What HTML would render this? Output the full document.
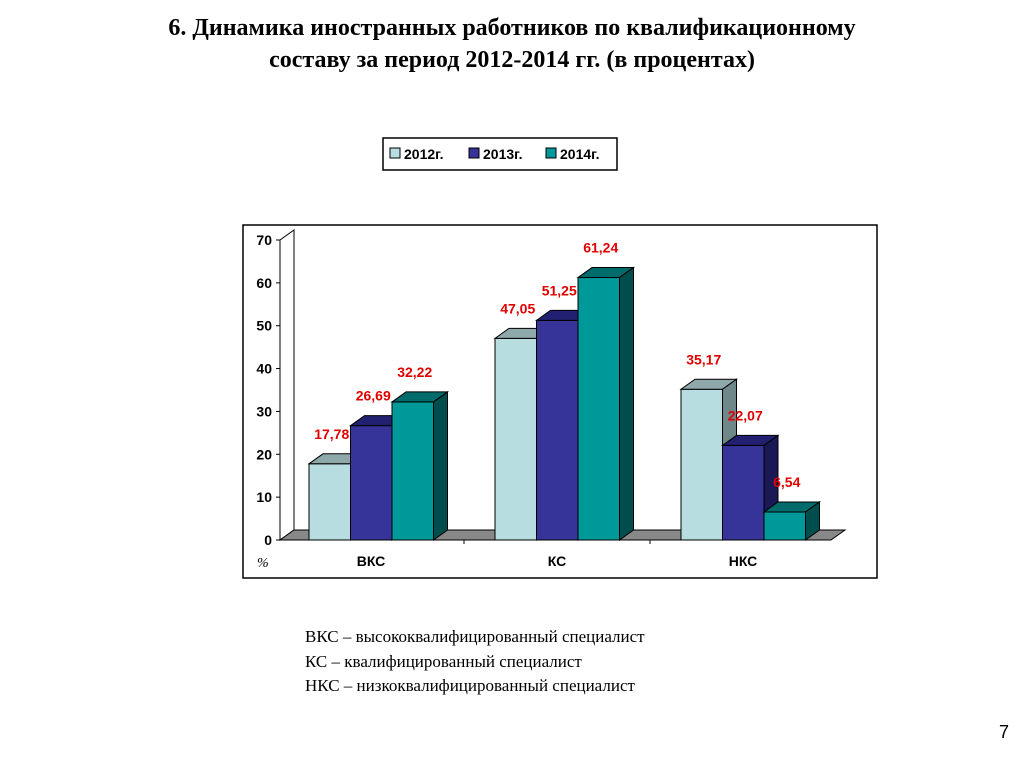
<!DOCTYPE html>
<html><head><meta charset="utf-8"><style>
body{margin:0;width:1024px;height:768px;background:#fff;overflow:hidden;position:relative;font-family:"Liberation Sans",sans-serif}
.title{position:absolute;left:0;top:12px;width:1024px;text-align:center;font:bold 24px/32px "Liberation Serif",serif;color:#000}
.notes{position:absolute;left:305px;top:625px;font:17px/24.5px "Liberation Serif",serif}
.pg{position:absolute;left:999px;top:722px;font:18px "Liberation Sans",sans-serif}
</style></head><body>
<div class="title">6. Динамика иностранных работников по квалификационному<br>составу за период 2012-2014 гг. (в процентах)</div>
<svg width="1024" height="768" style="position:absolute;left:0;top:0">
<rect x="383" y="138" width="234" height="32" fill="#fff" stroke="#000" stroke-width="1.5"/>
<rect x="243" y="225" width="634" height="353" fill="#fff" stroke="#000" stroke-width="1.5"/>
<g id="g"></g>
</svg>
<div class="notes">ВКС – высококвалифицированный специалист<br>КС – квалифицированный специалист<br>НКС – низкоквалифицированный специалист</div>
<div class="pg">7</div>
<script>
const categories=["ВКС","КС","НКС"];
const series=["2012г.","2013г.","2014г."];
const v2012=[17.78,47.05,35.17];
const v2013=[26.69,51.25,22.07];
const v2014=[32.22,61.24,6.54];
const labels2012=["17,78","47,05","35,17"];
const labels2013=["26,69","51,25","22,07"];
const labels2014=["32,22","61,24","6,54"];
const ticks=[0,10,20,30,40,50,60,70];
const vals=[v2012,v2013,v2014],labs=[labels2012,labels2013,labels2014];
const cols=[["#b8dde0","#8fa9ab","#6f8789"],["#363399","#222070","#1a1855"],["#009999","#006b6b","#004d4d"]];
const NS="http://www.w3.org/2000/svg",g=document.getElementById('g');
const y0=540,ppu=300/70,dx=14,dy=-10,ax=280;
const y=v=>y0-v*ppu;
function mk(t,a,name){const e=document.createElementNS(NS,t);for(const k in a)e.setAttribute(k,a[k]);g.appendChild(e);return e;}
// walls
mk('polygon',{points:`${ax},${y(70)} ${ax+dx},${y(70)+dy} ${ax+dx},${y0+dy} ${ax},${y0}`,fill:'#fff',stroke:'#000'},'side-wall');
mk('polyline',{points:`${ax+dx},${y(70)+dy} ${ax+dx},${y0+dy}`,fill:'none',stroke:'#000'},'back-wall-edge');
mk('polygon',{points:`${ax},${y0} ${ax+dx},${y0+dy} ${845},${y0+dy} ${845-dx},${y0}`,fill:'#888',stroke:'#000'},'floor');
mk('line',{x1:ax,y1:y(70),x2:ax,y2:y0,stroke:'#000'},'y-axis');
mk('line',{x1:ax,y1:y0,x2:845-dx,y2:y0,stroke:'#000'},'x-axis');
ticks.forEach(t=>{
 mk('line',{x1:ax-4,y1:y(t),x2:ax,y2:y(t),stroke:'#000'},'y-tick');
 const e=mk('text',{x:ax-8,y:y(t)+5,'text-anchor':'end','font-size':14,'font-weight':'bold'},'y-tick-label');e.textContent=t;
});
const tp=mk('text',{x:257,y:567,'font-size':14,'font-style':'italic','font-family':'Liberation Serif,serif'},'y-unit');tp.textContent='%';
const gw=186,bw=41.5,g0=309;
categories.forEach((c,i)=>{
 const gx=g0+i*gw;
 const cl=mk('text',{x:gx+62,y:566,'text-anchor':'middle','font-size':14,'font-weight':'bold'},'category-label');cl.textContent=c;
 if(i>0){mk('line',{x1:gx-31,y1:y0,x2:gx-31,y2:y0+4,stroke:'#000'},'x-tick');}
 for(let s=0;s<3;s++){
  const x=gx+s*bw,top=y(vals[s][i]);
  mk('rect',{x:x,y:top,width:bw,height:y0-top,fill:cols[s][0],stroke:'#000','stroke-width':1},'bar-'+c+'-'+s);
  mk('polygon',{points:`${x},${top} ${x+dx},${top+dy} ${x+bw+dx},${top+dy} ${x+bw},${top}`,fill:cols[s][1],stroke:'#000'},'bar-top');
  mk('polygon',{points:`${x+bw},${top} ${x+bw+dx},${top+dy} ${x+bw+dx},${y0+dy} ${x+bw},${y0}`,fill:cols[s][2],stroke:'#000'},'bar-side');
  const t=mk('text',{x:x+bw/2+2,y:top-25,'text-anchor':'middle','font-size':14,'font-weight':'bold',fill:'#e00000'},'value-label');t.textContent=labs[s][i];
 }
});
// legend
const lx=[390,488,546];const lcols=["#b8dde0","#363399","#009999"];const lxt=[404,481,560];
series.forEach((s,i)=>{
 const xs=[390,469,546][i];
 mk('rect',{x:xs,y:148,width:10,height:10,fill:lcols[i],stroke:'#000'},'legend-swatch');
 const t=mk('text',{x:xs+14,y:159,'font-size':14,'font-weight':'bold'},'legend-entry');t.textContent=s;
});
</script>
</body></html>
